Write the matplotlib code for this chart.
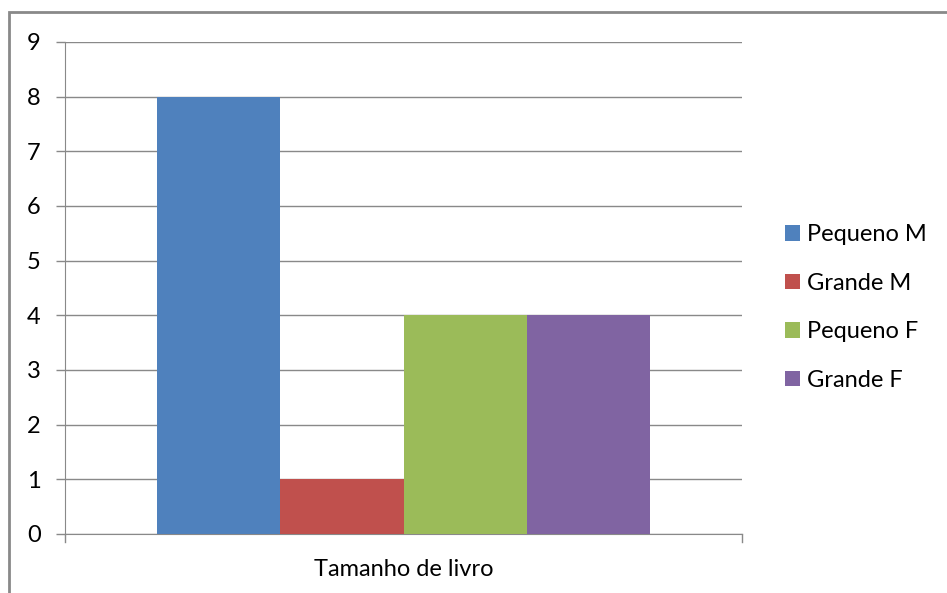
import matplotlib
matplotlib.use("Agg")
import matplotlib.pyplot as plt
from matplotlib.patches import Rectangle, Patch
import numpy as np

categories = ["Tamanho de livro"]
series_names = ["Pequeno M", "Grande M", "Pequeno F", "Grande F"]
series_values = [8, 1, 4, 4]
colors = ["#4F81BD", "#C0504D", "#9BBB59", "#8064A2"]
yticks = list(range(0, 10))

plt.rcParams['font.family'] = ['Lato', 'DejaVu Sans']
FS = 17

W, H = 947, 593
fig = plt.figure(figsize=(W / 100, H / 100), dpi=100)

# outer chart border
fig.patches.append(Rectangle((9 / W, -0.1), 1.2, 1 - 12 / H + 0.1, transform=fig.transFigure,
                             fill=False, edgecolor="#898989", linewidth=2, zorder=0))

ax = fig.add_axes([65 / W, 1 - 534 / H, (742 - 65) / W, (534 - 42) / H])

n = len(series_values)
gap = 1.5
bw = 1.0 / (n + gap)
start = -0.5 + gap * bw / 2
for i, (name, v, c) in enumerate(zip(series_names, series_values, colors)):
    ax.bar(start + bw * i, v, width=bw, align="edge", color=c, label=name, zorder=3)

ax.set_xlim(-0.5, 0.5)
ax.set_ylim(0, 9)
ax.set_yticks(yticks)
ax.set_yticklabels([str(t) for t in yticks], fontsize=FS)
ax.set_xticks([0])
ax.set_xticklabels(categories, fontsize=FS)
ax.tick_params(axis="x", length=0, pad=18)
ax.tick_params(axis="y", length=6.5, color="#898989", width=1, pad=11)
ax.yaxis.grid(True, color="#898989", linewidth=1, zorder=0)
for t in [-0.5, 0.5]:
    ax.plot([t, t], [0, -0.15], color="#898989", linewidth=1, clip_on=False)
for s in ["top", "right"]:
    ax.spines[s].set_visible(False)
ax.spines["left"].set_color("#898989")
ax.spines["bottom"].set_color("#898989")

handles = [Patch(facecolor=c, edgecolor="none", label=nm) for nm, c in zip(series_names, colors)]
fig.legend(handles=handles, loc="upper left", bbox_to_anchor=(785 / W, 1 - 224 / H),
           frameon=False, fontsize=FS, handlelength=0.64, handleheight=0.64,
           handletextpad=0.3, labelspacing=1.17, borderpad=0, borderaxespad=0)

fig.savefig("out.png", dpi=100)
